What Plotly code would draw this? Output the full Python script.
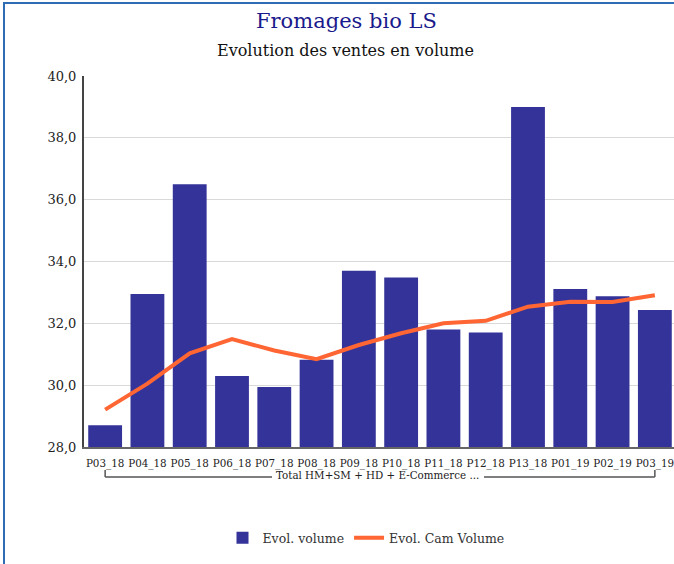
import plotly.graph_objects as go

categories = ["P03_18", "P04_18", "P05_18", "P06_18", "P07_18", "P08_18", "P09_18",
              "P10_18", "P11_18", "P12_18", "P13_18", "P01_19", "P02_19", "P03_19"]
evol_volume = [28.7, 32.95, 36.5, 30.3, 29.94, 30.82, 33.7, 33.48, 31.8, 31.7, 39.0, 33.11, 32.88, 32.43]
evol_cam_volume = [29.21, 30.05, 31.03, 31.49, 31.12, 30.84, 31.3, 31.68, 32.0, 32.08, 32.54, 32.7, 32.69, 32.91]
group_label = "Total HM+SM + HD + E-Commerce ..."
title_text = "Fromages bio LS"
subtitle_text = "Evolution des ventes en volume"

FONT = "DejaVu Serif"
TICKFONT = "DejaVu Serif Condensed"
W, H = 680, 564
# plot area in page pixels: left 84, right 676, top 76, bottom 447
L, R, T, B = 84, W - 676, 76, H - 447
pw, ph = W - L - R, H - T - B

def px_x(p):
    return (p - L) / pw

def px_y(p):
    return (H - B - p) / ph

n = len(categories)
first_c = 0.5 / n
last_c = (n - 0.5) / n

fig = go.Figure()
fig.add_trace(go.Bar(x=categories, y=evol_volume, name="Evol. volume",
                     marker=dict(color="#333399", line=dict(width=0))))
fig.add_trace(go.Scatter(x=categories, y=evol_cam_volume, name="Evol. Cam Volume",
                         mode="lines", line=dict(color="#ff6633", width=4)))

bracket = dict(color="#555555", width=1.5)
fig.update_layout(
    width=W, height=H,
    margin=dict(l=L, r=R, t=T, b=B, autoexpand=False),
    paper_bgcolor="white", plot_bgcolor="white",
    separators=", ",
    bargap=0.2,
    font=dict(family=FONT, color="#222222"),
    showlegend=True,
    legend=dict(orientation="h", x=px_x(366), xanchor="center", y=px_y(538), yanchor="middle",
                font=dict(size=12.5, color="#333333"), itemwidth=30, traceorder="normal"),
    xaxis=dict(range=[-0.5, n - 0.5], showgrid=False, showline=True,
               linecolor="#666666", linewidth=2, tickfont=dict(family=TICKFONT, size=11.5, color="#222222"),
               ticks="", tickangle=0, automargin=False, ticklabelstandoff=4),
    yaxis=dict(range=[28, 40], dtick=2, tickformat=".1f", showgrid=True,
               gridcolor="#d9d9d9", gridwidth=1, showline=True, linecolor="#444444",
               linewidth=2, zeroline=False, tickfont=dict(size=13, color="#222222"),
               ticks="", ticklabelstandoff=3, automargin=False),
    annotations=[
        dict(text=title_text, x=px_x(346), y=px_y(21), xref="paper", yref="paper",
             showarrow=False, xanchor="center", yanchor="middle",
             font=dict(family=FONT, size=21, color="#1a1a8c")),
        dict(text=subtitle_text, x=px_x(345), y=px_y(50), xref="paper", yref="paper",
             showarrow=False, xanchor="center", yanchor="middle",
             font=dict(family=FONT, size=16, color="#111111")),
        dict(text=group_label, x=px_x(377), y=px_y(475), xref="paper", yref="paper",
             showarrow=False, xanchor="center", yanchor="middle",
             font=dict(family=FONT, size=10.3, color="#222222")),
    ],
    shapes=[
        dict(type="rect", xref="paper", yref="paper", x0=px_x(4), x1=px_x(720),
             y0=px_y(620), y1=px_y(3), line=dict(color="#2e6db4", width=2), layer="below"),
        dict(type="line", xref="paper", yref="paper", x0=first_c, x1=first_c,
             y0=px_y(470), y1=px_y(477), line=bracket),
        dict(type="line", xref="paper", yref="paper", x0=last_c, x1=last_c,
             y0=px_y(470), y1=px_y(477), line=bracket),
        dict(type="line", xref="paper", yref="paper", x0=first_c, x1=px_x(272),
             y0=px_y(477), y1=px_y(477), line=bracket),
        dict(type="line", xref="paper", yref="paper", x0=px_x(484), x1=last_c,
             y0=px_y(477), y1=px_y(477), line=bracket),
    ],
)

fig.write_html(
    "out.html",
    config={"displayModeBar": False},
    post_script="document.body.style.margin='0';document.body.style.overflow='hidden';",
)
